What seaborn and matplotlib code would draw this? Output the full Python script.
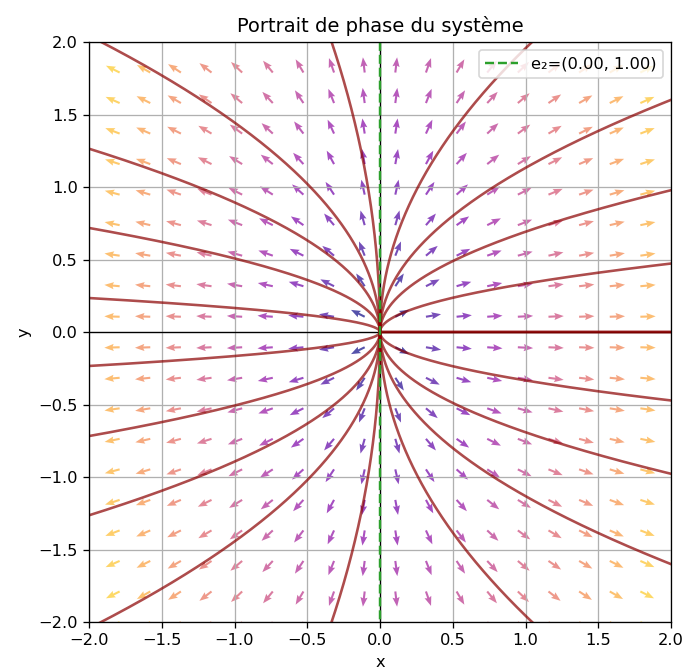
import numpy as np
import pandas as pd
import matplotlib
matplotlib.use("Agg")
import matplotlib.pyplot as plt
import seaborn as sns

# Linear system  X' = A X
A = np.array([[2.0, 0.0],
              [0.0, 1.0]])
e2 = [0.0, 1.0]                 # eigenvector shown in legend
n_traj = 20                     # initial conditions on a circle
r0 = 1.0                        # radius of that circle
grid_n = 20                     # quiver grid size
lim = 2.0

DPI = 117
fig = plt.figure(figsize=(686 / DPI, 670 / DPI), dpi=DPI)
ax = fig.add_axes([89 / 686, 1 - 622 / 670, 582 / 686, 580 / 670])

# Vector field
g = np.linspace(-lim, lim, grid_n)
X, Y = np.meshgrid(g, g)
U = A[0, 0] * X + A[0, 1] * Y
V = A[1, 0] * X + A[1, 1] * Y
M = np.hypot(U, V)
ax.quiver(X, Y, U / M, V / M, M, cmap="plasma", alpha=0.7,
          width=0.0036, scale=38, headwidth=3.4, headlength=4.5,
          headaxislength=4.0)

ax.axhline(0, color="black", lw=0.8)
ax.axvline(0, color="black", lw=0.8)

# Trajectories (exact solutions via eigen-decomposition)
lam, P = np.linalg.eig(A)
Pinv = np.linalg.inv(P)
t = np.linspace(-9, 3, 4000)
angles = np.linspace(0, 2 * np.pi, n_traj)
rows = []
for k, th in enumerate(angles):
    x0 = np.array([r0 * np.cos(th), r0 * np.sin(th)])
    c = Pinv @ x0
    sol = P @ (c[:, None] * np.exp(np.outer(lam, t)))
    rows.append(pd.DataFrame({"x": sol[0], "y": sol[1], "traj": k}))
df = pd.concat(rows, ignore_index=True)
sns.lineplot(data=df, x="x", y="y", units="traj", estimator=None, sort=False,
             color="darkred", alpha=0.7, lw=1.6, ax=ax, legend=False)

# Eigenvector line
s = np.array([-3.0, 3.0])
sns.lineplot(x=s * e2[0], y=s * e2[1], estimator=None, sort=False,
             color="C2", linestyle="--", lw=1.5, ax=ax,
             label=f"e\u2082=({e2[0]:.2f}, {e2[1]:.2f})")

ax.set_xlim(-lim, lim)
ax.set_ylim(-lim, lim)
ax.grid(True)
ax.set_title("Portrait de phase du système")
ax.set_xlabel("x")
ax.set_ylabel("y")
ax.legend(loc="upper right")

fig.savefig("out.png", dpi=DPI)
